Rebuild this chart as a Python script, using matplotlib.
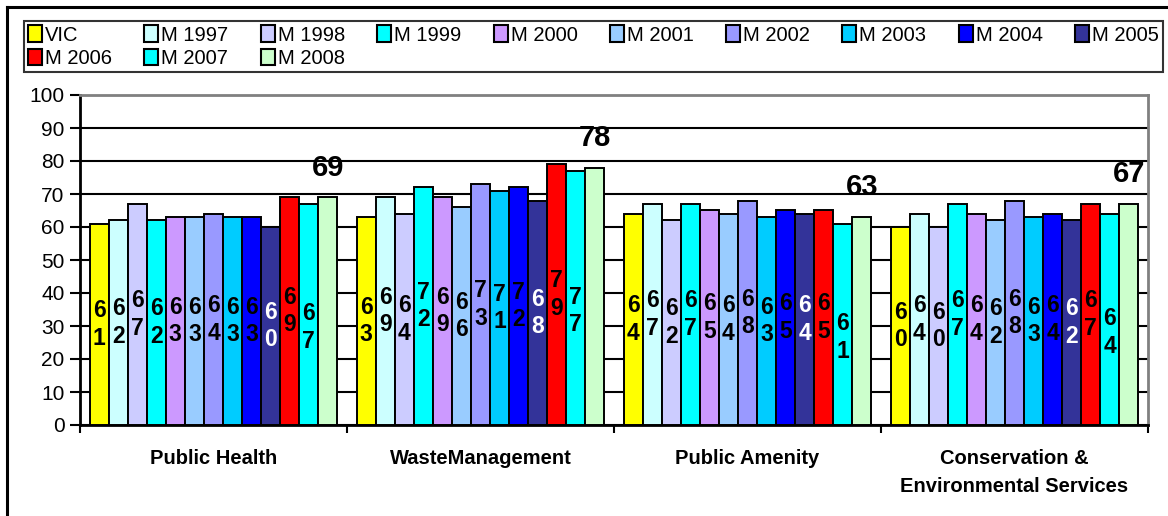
import matplotlib.pyplot as plt
from matplotlib.lines import Line2D
import numpy as np

plt.rcParams['font.family'] = ['Liberation Sans', 'DejaVu Sans']

categories = ['Public Health', 'WasteManagement', 'Public Amenity',
              'Conservation &\nEnvironmental Services']
series_names = ['VIC', 'M 1997', 'M 1998', 'M 1999', 'M 2000', 'M 2001', 'M 2002',
                'M 2003', 'M 2004', 'M 2005', 'M 2006', 'M 2007', 'M 2008']

vic = [61, 63, 64, 60]
m1997 = [62, 69, 67, 64]
m1998 = [67, 64, 62, 60]
m1999 = [62, 72, 67, 67]
m2000 = [63, 69, 65, 64]
m2001 = [63, 66, 64, 62]
m2002 = [64, 73, 68, 68]
m2003 = [63, 71, 63, 63]
m2004 = [63, 72, 65, 64]
m2005 = [60, 68, 64, 62]
m2006 = [69, 79, 65, 67]
m2007 = [67, 77, 61, 64]
m2008 = [69, 78, 63, 67]

series = [vic, m1997, m1998, m1999, m2000, m2001, m2002,
          m2003, m2004, m2005, m2006, m2007, m2008]
colors = ['#FFFF00', '#CCFFFF', '#CCCCFF', '#00FFFF', '#CC99FF', '#99CCFF', '#9999FF',
          '#00CCFF', '#0000FF', '#333399', '#FF0000', '#00FFFF', '#CCFFCC']

W, H = 1168, 516
fig = plt.figure(figsize=(W / 100, H / 100), dpi=100)
ax = fig.add_axes([80 / W, 1 - 425 / H, (1148 - 80) / W, (425 - 95) / H])

x = np.arange(len(categories))
n = len(series)
bw = 1.0 / (n + 1)

for j, (vals, col) in enumerate(zip(series, colors)):
    xs = x + (j - (n - 1) / 2) * bw
    ax.bar(xs, vals, bw, color=col, edgecolor='black', linewidth=1.4, zorder=3)
    for xi, v in zip(xs, vals):
        if j == n - 1:
            # last series gets a big label above the group
            ax.text(xi, v + 9, str(v), ha='center', va='center',
                    fontsize=21, fontweight='bold', zorder=5)
        else:
            txt = '\n'.join(str(v))
            tc = 'white' if series_names[j] == 'M 2005' else 'black'
            yy = v / 2 - (4 if series_names[j] == 'M 2007' else 0)
            ax.text(xi, yy, txt, ha='center', va='center', fontsize=16.5,
                    fontweight='bold', color=tc, linespacing=1.25, zorder=5)

ax.set_xlim(-0.5, len(categories) - 0.5)
ax.set_ylim(0, 100)
ax.set_yticks(np.arange(0, 101, 10))
ax.tick_params(axis='y', direction='out', length=7, width=1.5, pad=4, labelsize=15)
ax.yaxis.grid(True, color='black', linewidth=1.5)
ax.set_axisbelow(True)

ax.set_xticks(x)
ax.set_xticklabels(categories, fontsize=14.5, fontweight='bold', linespacing=1.6)
ax.tick_params(axis='x', length=0, pad=17)
ax.set_xticks(np.arange(-0.5, len(categories)), minor=True)
ax.tick_params(axis='x', which='minor', direction='out', length=6, width=1.5)

for s in ['left', 'bottom']:
    ax.spines[s].set_color('black')
    ax.spines[s].set_linewidth(2)
for s in ['top', 'right']:
    ax.spines[s].set_color('#808080')
    ax.spines[s].set_linewidth(2)

# legend fills column by column, so interleave to read across rows
ncol = 10
order = []
for c in range(ncol):
    order.append(c)
    if c + ncol < n:
        order.append(c + ncol)
handles = [plt.Rectangle((0, 0), 1, 1, facecolor=colors[i], edgecolor='black', linewidth=1.5)
           for i in order]
labels = [series_names[i] for i in order]
leg = fig.legend(handles, labels, ncol=ncol, mode='expand',
                 bbox_to_anchor=(24 / W, 1 - 72 / H, (1163 - 24) / W, 50 / H),
                 loc='lower left', borderaxespad=0, fontsize=14.5,
                 handlelength=0.7, handleheight=0.9, handletextpad=0.15,
                 labelspacing=0.2, borderpad=0.2, fancybox=False)
leg.get_frame().set_edgecolor('black')
leg.get_frame().set_linewidth(1.5)

# outer frame lines along top and left
fig.add_artist(Line2D([7 / W, 1], [1 - 7 / H, 1 - 7 / H], color='black', linewidth=2.2,
                      transform=fig.transFigure))
fig.add_artist(Line2D([7 / W, 7 / W], [0, 1 - 7 / H], color='black', linewidth=2.2,
                      transform=fig.transFigure))

fig.savefig('out.png', dpi=100)
